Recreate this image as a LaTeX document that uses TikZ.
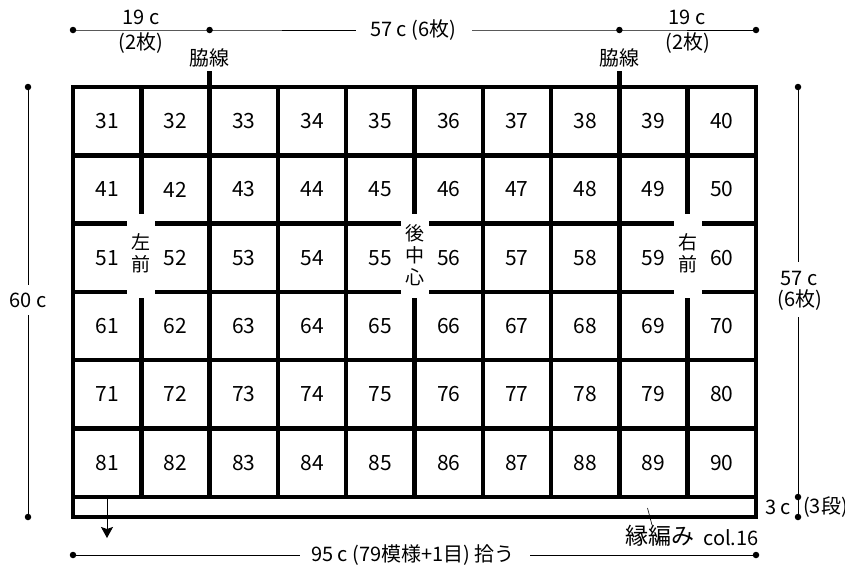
\documentclass[tikz,border=0pt]{standalone}
\usepackage{fontspec}
\setmainfont{Noto Sans CJK JP}
\usetikzlibrary{arrows.meta}
\begin{document}
\begin{tikzpicture}[x=1pt,y=-1pt,
  thickline/.style={line width=4.5pt, line cap=rect},
  dimline/.style={line width=0.8pt},
  dimdot/.style={circle, fill=black, inner sep=0pt, minimum size=6.5pt},
  lbl/.style={inner sep=0pt, font=\fontsize{20}{24}\selectfont},
  num/.style={inner sep=0pt, font=\fontsize{21}{24}\selectfont},
  vlbl/.style={inner sep=0pt, align=center, font=\fontsize{19}{22}\selectfont},
  big/.style={inner sep=0pt, font=\fontsize{23}{26}\selectfont}]
\useasboundingbox (0,0) rectangle (845,565);
% grid
\draw[thickline] (73,87) rectangle (756,517);
\foreach \j in {1,...,6} \draw[thickline] (73,87+68.3*\j) -- (756,87+68.3*\j);
\foreach \i in {1,...,9} \draw[thickline] (73+68.3*\i,87) -- (73+68.3*\i,496.8);
\draw[thickline] (209.6,73) -- (209.6,87);
\draw[thickline] (619.4,73) -- (619.4,87);
% clearings
\foreach \i in {1,5,9} \fill[white] (73+68.3*\i-14,214) rectangle (73+68.3*\i+14,298);
% numbers
\foreach \j in {0,...,5} \foreach \i in {0,...,9} {
  \pgfmathtruncatemacro{\n}{31+10*\j+\i}
  \node[num] (n\n) at (73+68.3*\i+34.15, 87+68.3*\j+34.15) {\n};
}
\node[vlbl] (lf) at (141.3,253) {左\\前};
\node[vlbl] (bc) at (414.5,255) {後\\中\\心};
\node[vlbl] (rf) at (687.7,253) {右\\前};
% top dimension
\coordinate (t1) at (73,30); \coordinate (t2) at (209.6,30);
\coordinate (t3) at (619.4,30); \coordinate (t4) at (756,30);
\node[lbl] (t57) at (413,30) {57 c (6枚)};
\draw[dimline] (t1) -- (t2) -- (356,30);
\draw[dimline] (472,30) -- (t3) -- (t4);
\foreach \c in {t1,t2,t3,t4} \node[dimdot] (d\c) at (\c) {};
\node[lbl] (t19a) at (141,17) {19 c};
\node[lbl] (t2a) at (141,43) {(2枚)};
\node[lbl] (t19b) at (687,17) {19 c};
\node[lbl] (t2b) at (688,43) {(2枚)};
\node[lbl] (w1) at (209.6,58) {脇線};
\node[lbl] (w2) at (619.4,58) {脇線};
% left dimension
\coordinate (l1) at (28,87); \coordinate (l2) at (28,517);
\node[lbl] (l60) at (28,300) {60 c};
\draw[dimline] (l1) -- (28,285);
\draw[dimline] (28,315) -- (l2);
\node[dimdot] (dl1) at (l1) {}; \node[dimdot] (dl2) at (l2) {};
% right dimension
\coordinate (r1) at (798,87); \coordinate (r2) at (798,497); \coordinate (r3) at (798,517);
\node[lbl] (r57) at (799,278) {57 c};
\node[lbl] (r6) at (800,300) {(6枚)};
\draw[dimline] (r1) -- (798,262);
\draw[dimline] (798,317) -- (r3);
\node[dimdot] (dr1) at (r1) {}; \node[dimdot] (dr2) at (r2) {}; \node[dimdot] (dr3) at (r3) {};
\node[lbl] (r3c) at (778,507) {3 c};
\node[lbl, anchor=west] (r3d) at (803,507) {(3段)};
% bottom dimension
\coordinate (b1) at (73,555); \coordinate (b2) at (756,555);
\node[lbl] (b95) at (413,555) {95 c (79模様+1目) 拾う};
\draw[dimline] (b1) -- (300,555);
\draw[dimline] (530,555) -- (b2);
\node[dimdot] (db1) at (b1) {}; \node[dimdot] (db2) at (b2) {};
% arrow
\coordinate (a1) at (107,499); \coordinate (a2) at (107,538);
\draw[dimline, -{Stealth[length=11pt,width=12pt,inset=2pt]}] (a1) -- (a2);
% edge label
\node[big] (en) at (660,536) {縁編み};
\node[lbl] (col) at (731,538) {col.16};
\coordinate (e1) at (647.5,508); \coordinate (e2) at (652,525);
\draw[line width=0.6pt] (e1) -- (e2);
\end{tikzpicture}
\end{document}
